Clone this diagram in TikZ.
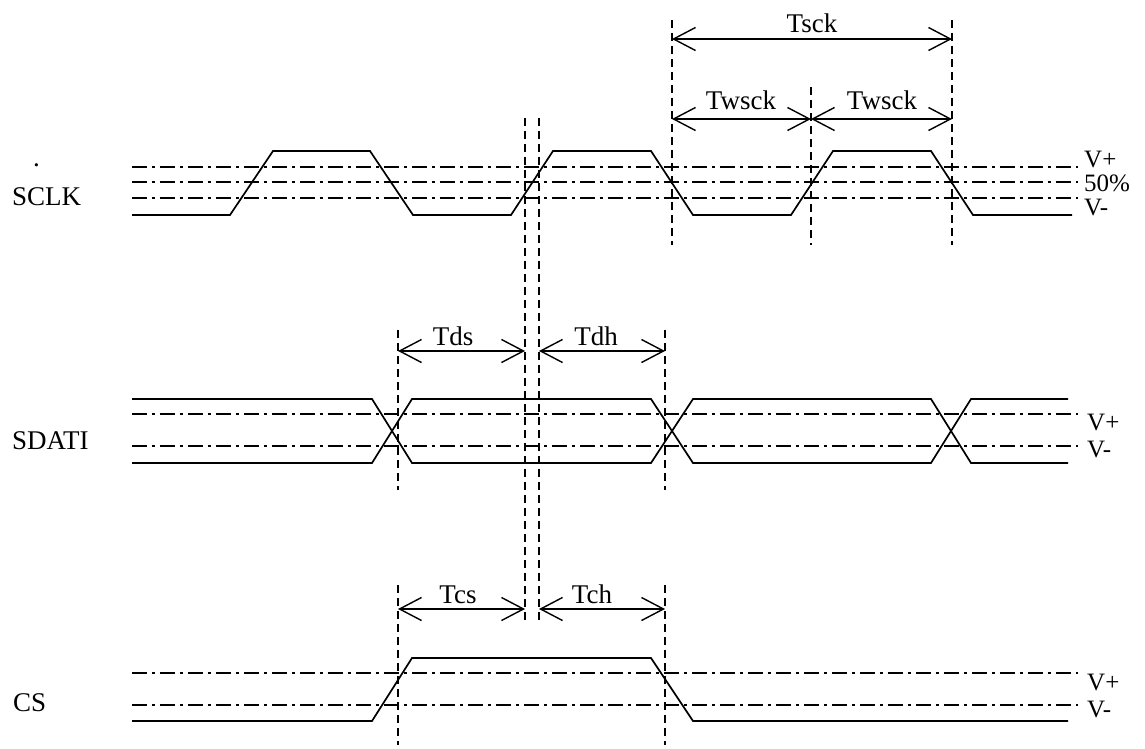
\documentclass[tikz,border=0pt]{standalone}
\usepackage{fontspec}
\setmainfont{Liberation Serif}
\usetikzlibrary{arrows.meta}

\begin{document}
\begin{tikzpicture}[x=1pt,y=-1pt,
  wave/.style={line width=1.7pt,line join=miter},
  level/.style={line width=1.3pt,dash pattern=on 15pt off 5pt on 3pt off 5pt},
  guide/.style={line width=1.3pt,dash pattern=on 8pt off 5pt},
  dim/.style={line width=1.4pt,{Straight Barb[length=22pt,width=23pt]}-{Straight Barb[length=22pt,width=23pt]}},
  lbl/.style={font=\fontsize{27}{30}\selectfont,inner sep=0pt,anchor=base},
  lvl/.style={font=\fontsize{25}{28}\selectfont,inner sep=0pt,anchor=base west}]
  \useasboundingbox (0,0) rectangle (1145,749);

  % signal names and levels
  \node[lbl,anchor=base west] (sclk) at (12,205) {SCLK};
  \node[lbl,anchor=base west] (dot) at (33,166) {.};
  \node[lbl,anchor=base west] (sdati) at (12,449) {SDATI};
  \node[lbl,anchor=base west] (cs) at (13,711) {CS};
  \node[lvl] (vp1) at (1084,167) {V+};
  \node[lvl] (h1) at (1084,191) {50\%};
  \node[lvl] (vm1) at (1084,215) {V-};
  \node[lvl] (vp2) at (1087,430) {V+};
  \node[lvl] (vm2) at (1087,457) {V-};
  \node[lvl] (vp3) at (1087,690) {V+};
  \node[lvl] (vm3) at (1087,717) {V-};

  \foreach \y in {167,182,198,414,446,673,705}
    \draw[level] (132,\y) -- (1078,\y);

  % SCLK
  \draw[wave] (132,215) -- (230,215) -- (273,151) -- (370,151) -- (413,215) -- (511,215)
    -- (553,151) -- (651,151) -- (693,215) -- (791,215) -- (833,151) -- (931,151)
    -- (973,215) -- (1072,215);
  % SDATI
  \draw[wave] (132,399) -- (372,399) -- (412,463) -- (651,463) -- (693,399) -- (931,399)
    -- (971,463) -- (1068,463);
  \draw[wave] (132,463) -- (372,463) -- (412,399) -- (651,399) -- (693,463) -- (931,463)
    -- (971,399) -- (1068,399);
  % CS
  \draw[wave] (132,721) -- (372,721) -- (412,658) -- (651,658) -- (693,721) -- (1068,721);

  % timing marks
  \coordinate (k1t) at (672,20);  \coordinate (k1b) at (672,245);
  \coordinate (k2t) at (811,87);  \coordinate (k2b) at (811,245);
  \coordinate (k3t) at (952,20);  \coordinate (k3b) at (952,245);
  \coordinate (e1t) at (525,118); \coordinate (e1b) at (525,623);
  \coordinate (e2t) at (539,118); \coordinate (e2b) at (539,623);
  \coordinate (d1t) at (398,330); \coordinate (d1b) at (398,490);
  \coordinate (d2t) at (665,330); \coordinate (d2b) at (665,490);
  \coordinate (c1t) at (398,585); \coordinate (c1b) at (398,745);
  \coordinate (c2t) at (665,585); \coordinate (c2b) at (665,745);
  \foreach \m in {k1,k2,k3,e1,e2,d1,d2,c1,c2}
    \draw[guide] (\m t) -- (\m b);

  \draw[dim] (k1t|-0,39) -- (k3t|-0,39);
  \draw[dim] (k1t|-0,119) -- (k2t|-0,119);
  \draw[dim] (k2t|-0,119) -- (k3t|-0,119);
  \draw[dim] (d1t|-0,351) -- (e1t|-0,351);
  \draw[dim] (e2t|-0,351) -- (d2t|-0,351);
  \draw[dim] (c1t|-0,609) -- (e1t|-0,609);
  \draw[dim] (e2t|-0,609) -- (c2t|-0,609);

  \node[lbl] (tsck) at (812,33) {Tsck};
  \node[lbl] (tw1) at (741,110) {Twsck};
  \node[lbl] (tw2) at (882,110) {Twsck};
  \node[lbl] (tds) at (453,345) {Tds};
  \node[lbl] (tdh) at (596,345) {Tdh};
  \node[lbl] (tcs) at (458,603) {Tcs};
  \node[lbl] (tch) at (592,603) {Tch};
\end{tikzpicture}
\end{document}
